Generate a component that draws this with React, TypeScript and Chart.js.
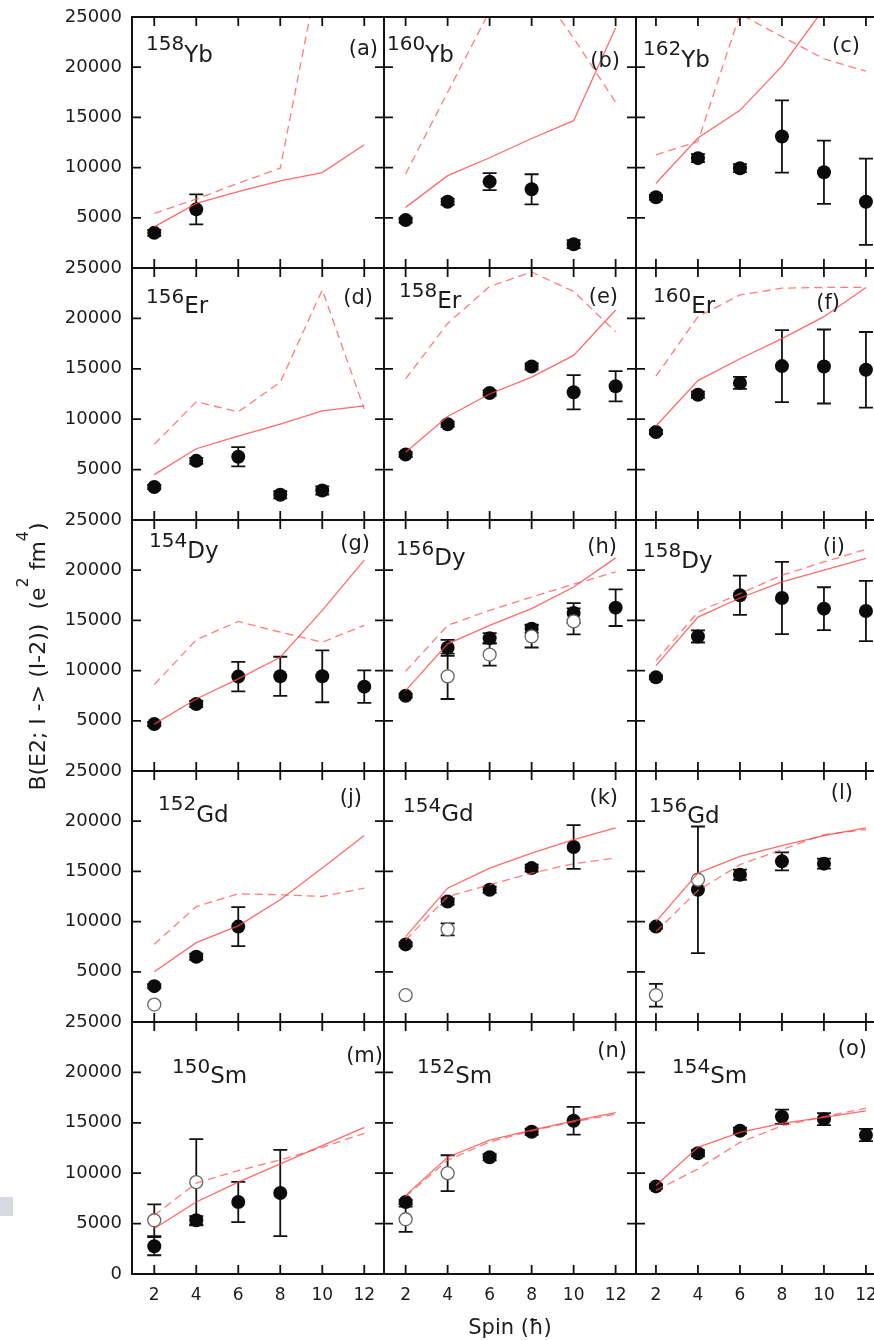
import React, { useEffect, useRef } from "react";
import { Chart, registerables } from "chart.js";

Chart.register(...registerables);
Chart.defaults.font.family = "'DejaVu Sans', sans-serif";

// ---------- data ----------
const SPINS = [2, 4, 6, 8, 10, 12];
const X_TICKS = [2, 4, 6, 8, 10, 12];
const Y_TICKS = [0, 5000, 10000, 15000, 20000, 25000];
const Y_INNER_TICKS = [5000, 10000, 15000, 20000];

// (a) 158Yb
const yb158Solid = [4100, 6440, 7600, 8670, 9500, 12270];
const yb158Dashed = [5440, 6870, 8440, 9940, 31300, 34000];
const yb158Exp = [3500, 5840, null, null, null, null];
const yb158Err = [300, 1500, 0, 0, 0, 0];

// (b) 160Yb
const yb160Solid = [6040, 9200, 10980, 12900, 14670, 23940];
const yb160Dashed = [9370, 17500, 25600, 28800, 22900, 16500];
const yb160Exp = [4770, 6600, 8600, 7840, 2370, null];
const yb160Err = [250, 300, 850, 1500, 400, 0];

// (c) 162Yb
const yb162Solid = [8440, 12940, 15700, 20100, 25830, 31000];
const yb162Dashed = [11270, 12600, 25300, 23040, 20840, 19600];
const yb162Exp = [7040, 10940, 9940, 13100, 9540, 6600];
const yb162Err = [250, 400, 400, 3600, 3150, 4300];

// (d) 156Er
const er156Solid = [4500, 7070, 8330, 9500, 10830, 11330];
const er156Dashed = [7500, 11730, 10730, 13670, 22830, 11000];
const er156Exp = [3270, 5870, 6270, 2500, 2930, null];
const er156Err = [200, 300, 950, 350, 400, 0];

// (e) 158Er
const er158Solid = [6730, 10270, 12500, 14170, 16330, 20830];
const er158Dashed = [14000, 19500, 23170, 24600, 22670, 18670];
const er158Exp = [6500, 9500, 12600, 15230, 12670, 13270];
const er158Err = [250, 250, 250, 300, 1700, 1500];

// (f) 160Er
const er160Solid = [9330, 13830, 16000, 18000, 20170, 23070];
const er160Dashed = [14270, 20170, 22330, 23000, 23070, 23070];
const er160Exp = [8730, 12430, 13600, 15270, 15230, 14900];
const er160Err = [200, 300, 600, 3570, 3670, 3750];

// (g) 154Dy
const dy154Solid = [4670, 7170, 9170, 11330, 16000, 21000];
const dy154Dashed = [8600, 13070, 14900, 13830, 12830, 14500];
const dy154Exp = [4670, 6670, 9400, 9430, 9430, 8400];
const dy154Err = [200, 300, 1470, 1950, 2580, 1620];

// (h) 156Dy
const dy156Solid = [8000, 12670, 14500, 16170, 18330, 21230];
const dy156Dashed = [9930, 14500, 16000, 17330, 18600, 19830];
const dy156Exp = [7500, 12270, 13230, 14170, 15730, 16270];
const dy156Err = [200, 800, 500, 400, 1000, 1830];
const dy156Open = [null, 9430, 11600, 13400, 14900, null];
const dy156OpenErr = [0, 2260, 1100, 1100, 1300, 0];

// (i) 158Dy
const dy158Solid = [10500, 15330, 17230, 18830, 20000, 21170];
const dy158Dashed = [11000, 15830, 17670, 19500, 20830, 22070];
const dy158Exp = [9330, 13400, 17500, 17230, 16170, 15930];
const dy158Err = [200, 600, 1950, 3600, 2130, 3000];

// (j) 152Gd
const gd152Solid = [5000, 7900, 9570, 12170, 15330, 18570];
const gd152Dashed = [7740, 11500, 12770, 12670, 12500, 13330];
const gd152Exp = [3570, 6500, 9500, null, null, null];
const gd152Err = [200, 300, 1950, 0, 0, 0];
const gd152Open = [1740, null, null, null, null, null];
const gd152OpenErr = [0, 0, 0, 0, 0, 0];

// (k) 154Gd
const gd154Solid = [8500, 13330, 15330, 16830, 18170, 19330];
const gd154Dashed = [8170, 12500, 13670, 14830, 15770, 16330];
const gd154Exp = [7730, 12000, 13170, 15330, 17430, null];
const gd154Err = [200, 300, 300, 350, 2170, 0];
const gd154Open = [2670, 9230, null, null, null, null];
const gd154OpenErr = [0, 600, 0, 0, 0, 0];

// (l) 156Gd
const gd156Solid = [10000, 14830, 16500, 17570, 18570, 19330];
const gd156Dashed = [9000, 13100, 15670, 17170, 18670, 19170];
const gd156Exp = [9500, 13170, 14670, 16000, 15770, null];
const gd156Err = [200, 6300, 500, 900, 500, 0];
const gd156Open = [2670, 14170, null, null, null, null];
const gd156OpenErr = [1130, 0, 0, 0, 0, 0];

// (m) 150Sm
const sm150Solid = [4510, 7140, 9110, 10920, 12730, 14540];
const sm150Dashed = [5820, 9010, 10260, 11320, 12570, 13950];
const sm150Exp = [2760, 5330, 7140, 8030, null, null];
const sm150Err = [900, 400, 2000, 4280, 0, 0];
const sm150Open = [5330, 9110, null, null, null, null];
const sm150OpenErr = [1580, 4280, 0, 0, 0, 0];

// (n) 152Sm
const sm152Solid = [7800, 11580, 13290, 14280, 15200, 16020];
const sm152Dashed = [7700, 11300, 13100, 14200, 15100, 15850];
const sm152Exp = [7140, null, 11580, 14110, 15200, null];
const sm152Err = [200, 0, 300, 300, 1370, 0];
const sm152Open = [5430, 10000, null, null, null, null];
const sm152OpenErr = [1250, 1780, 0, 0, 0, 0];

// (o) 154Sm
const sm154Solid = [8780, 12570, 14050, 14940, 15530, 16190];
const sm154Dashed = [8290, 10430, 13060, 14700, 15600, 16450];
const sm154Exp = [8690, 11980, 14210, 15600, 15360, 13790];
const sm154Err = [200, 300, 300, 700, 600, 600];

type Vals = (number | null)[];
interface PanelDef {
  mass: string; el: string; tag: string;
  solid: Vals; dashed: Vals; exp: Vals; err: number[];
  open: Vals | null; openErr: number[] | null;
}

const PANELS: PanelDef[] = [
  { mass: "158", el: "Yb", tag: "(a)", solid: yb158Solid, dashed: yb158Dashed, exp: yb158Exp, err: yb158Err, open: null, openErr: null },
  { mass: "160", el: "Yb", tag: "(b)", solid: yb160Solid, dashed: yb160Dashed, exp: yb160Exp, err: yb160Err, open: null, openErr: null },
  { mass: "162", el: "Yb", tag: "(c)", solid: yb162Solid, dashed: yb162Dashed, exp: yb162Exp, err: yb162Err, open: null, openErr: null },
  { mass: "156", el: "Er", tag: "(d)", solid: er156Solid, dashed: er156Dashed, exp: er156Exp, err: er156Err, open: null, openErr: null },
  { mass: "158", el: "Er", tag: "(e)", solid: er158Solid, dashed: er158Dashed, exp: er158Exp, err: er158Err, open: null, openErr: null },
  { mass: "160", el: "Er", tag: "(f)", solid: er160Solid, dashed: er160Dashed, exp: er160Exp, err: er160Err, open: null, openErr: null },
  { mass: "154", el: "Dy", tag: "(g)", solid: dy154Solid, dashed: dy154Dashed, exp: dy154Exp, err: dy154Err, open: null, openErr: null },
  { mass: "156", el: "Dy", tag: "(h)", solid: dy156Solid, dashed: dy156Dashed, exp: dy156Exp, err: dy156Err, open: dy156Open, openErr: dy156OpenErr },
  { mass: "158", el: "Dy", tag: "(i)", solid: dy158Solid, dashed: dy158Dashed, exp: dy158Exp, err: dy158Err, open: null, openErr: null },
  { mass: "152", el: "Gd", tag: "(j)", solid: gd152Solid, dashed: gd152Dashed, exp: gd152Exp, err: gd152Err, open: gd152Open, openErr: gd152OpenErr },
  { mass: "154", el: "Gd", tag: "(k)", solid: gd154Solid, dashed: gd154Dashed, exp: gd154Exp, err: gd154Err, open: gd154Open, openErr: gd154OpenErr },
  { mass: "156", el: "Gd", tag: "(l)", solid: gd156Solid, dashed: gd156Dashed, exp: gd156Exp, err: gd156Err, open: gd156Open, openErr: gd156OpenErr },
  { mass: "150", el: "Sm", tag: "(m)", solid: sm150Solid, dashed: sm150Dashed, exp: sm150Exp, err: sm150Err, open: sm150Open, openErr: sm150OpenErr },
  { mass: "152", el: "Sm", tag: "(n)", solid: sm152Solid, dashed: sm152Dashed, exp: sm152Exp, err: sm152Err, open: sm152Open, openErr: sm152OpenErr },
  { mass: "154", el: "Sm", tag: "(o)", solid: sm154Solid, dashed: sm154Dashed, exp: sm154Exp, err: sm154Err, open: null, openErr: null },
];

// ---------- layout / style ----------
// [mass dx, mass baseline dy, element drop, tag right offset, tag baseline dy]
const LABEL_POS = [
  [14, 33, 12, 6, 38], [3, 33, 12, 16, 50], [7, 38, 12, 28, 35],
  [14, 35, 10, 11, 36], [15, 29, 11, 18, 35], [17, 34, 11, 48, 41],
  [17, 27, 11, 14, 30], [12, 35, 10, 19, 33], [7, 37, 11, 43, 33],
  [26, 39, 12, 22, 33], [19, 41, 9, 18, 33], [13, 41, 11, 35, 28],
  [40, 51, 10, 1, 40], [33, 51, 10, 9, 35], [36, 51, 10, 21, 33],
];
const COL_LEFT = [132, 384, 636];
const COL_XMIN = [0.94, 0.97, 1.05];
const PANEL_W = 252;
const ROW_TOP = [17, 268, 520, 771, 1022];
const ROW_BOTTOM = [268, 520, 771, 1022, 1274];
const TEXT = "#1c1c1c";
const RED = "rgba(255, 70, 70, 0.8)";
const RED_DASH = "rgba(255, 80, 80, 0.75)";
const FONT = "'DejaVu Sans', sans-serif";

function pts(vals: Vals) {
  return SPINS.map((x, i) => ({ x, y: vals[i] })).filter((p) => p.y !== null) as { x: number; y: number }[];
}

function Panel({ idx }: { idx: number }) {
  const ref = useRef<HTMLCanvasElement>(null);
  const r = Math.floor(idx / 3);
  const c = idx % 3;
  const p = PANELS[idx];
  const lp = LABEL_POS[idx];
  const padL = c === 0 ? COL_LEFT[0] : 6;
  const padR = 6;
  const padT = 14;
  const padB = r === 4 ? 70 : r === 2 && c === 0 ? 30 : 6;
  const areaH = ROW_BOTTOM[r] - ROW_TOP[r];
  const left = COL_LEFT[c] - padL;
  const top = ROW_TOP[r] - padT;
  const width = PANEL_W + padL + padR;
  const height = areaH + padT + padB;

  useEffect(() => {
    const canvas = ref.current;
    if (!canvas) return;

    const errorBars = {
      id: "errorBars",
      beforeDatasetsDraw(chart: any) {
        const { ctx, scales } = chart;
        const xs = scales.x, ys = scales.y;
        ctx.save();
        ctx.strokeStyle = "#111";
        ctx.lineWidth = 1.8;
        const draw = (vals: Vals, errs: number[] | null) => {
          if (!errs) return;
          SPINS.forEach((s, i) => {
            const v = vals[i];
            const e = errs[i];
            if (v === null || !e) return;
            const px = xs.getPixelForValue(s);
            const y1 = ys.getPixelForValue(v + e);
            const y2 = ys.getPixelForValue(v - e);
            ctx.beginPath();
            ctx.moveTo(px, y1); ctx.lineTo(px, y2);
            ctx.moveTo(px - 7, y1); ctx.lineTo(px + 7, y1);
            ctx.moveTo(px - 7, y2); ctx.lineTo(px + 7, y2);
            ctx.stroke();
          });
        };
        draw(p.exp, p.err);
        if (p.open) draw(p.open, p.openErr);
        ctx.restore();
      },
    };

    const frame = {
      id: "frame",
      afterDraw(chart: any) {
        const { ctx, chartArea: a, scales } = chart;
        ctx.save();
        ctx.strokeStyle = "#111";
        ctx.lineWidth = 2;
        ctx.strokeRect(a.left, a.top, a.right - a.left, a.bottom - a.top);
        ctx.lineWidth = 1.8;
        ctx.beginPath();
        X_TICKS.forEach((v) => {
          const px = scales.x.getPixelForValue(v);
          ctx.moveTo(px, a.top); ctx.lineTo(px, a.top + 9);
          ctx.moveTo(px, a.bottom); ctx.lineTo(px, a.bottom - 9);
        });
        Y_INNER_TICKS.forEach((v) => {
          const py = scales.y.getPixelForValue(v);
          ctx.moveTo(a.left, py); ctx.lineTo(a.left + 9, py);
          ctx.moveTo(a.right, py); ctx.lineTo(a.right - 9, py);
        });
        ctx.stroke();

        // nuclide label and panel tag
        ctx.fillStyle = TEXT;
        ctx.textBaseline = "alphabetic";
        ctx.textAlign = "left";
        ctx.font = `20px ${FONT}`;
        const x0 = a.left + lp[0];
        const y0 = a.top + lp[1];
        ctx.fillText(p.mass, x0, y0);
        const w = ctx.measureText(p.mass).width;
        ctx.font = `23px ${FONT}`;
        ctx.fillText(p.el, x0 + w, y0 + lp[2]);
        ctx.font = `21px ${FONT}`;
        ctx.textAlign = "right";
        ctx.fillText(p.tag, a.right - lp[3], a.top + lp[4]);

        // y axis title (middle-left panel)
        if (r === 2 && c === 0) {
          ctx.translate(45, 656.5 - top);
          ctx.rotate(-Math.PI / 2);
          ctx.textAlign = "left";
          const parts = [
            { t: "B(E2; I -> (I-2))  (e", sup: false },
            { t: "2", sup: true },
            { t: " fm", sup: false },
            { t: "4", sup: true },
            { t: ")", sup: false },
          ];
          let total = 0;
          const widths = parts.map((q) => {
            ctx.font = q.sup ? `16px ${FONT}` : `22px ${FONT}`;
            const ww = ctx.measureText(q.t).width;
            total += ww;
            return ww;
          });
          let x = -total / 2;
          parts.forEach((q, i) => {
            ctx.font = q.sup ? `16px ${FONT}` : `22px ${FONT}`;
            ctx.fillText(q.t, x, q.sup ? -17 : 0);
            x += widths[i];
          });
        }
        ctx.restore();
      },
    };

    const datasets: any[] = [
      { data: pts(p.solid), showLine: true, borderColor: RED, borderWidth: 1.3, pointRadius: 0, fill: false },
      { data: pts(p.dashed), showLine: true, borderColor: RED_DASH, borderWidth: 1.3, borderDash: [8, 5], pointRadius: 0, fill: false },
    ];
    if (p.open) {
      datasets.push({ data: pts(p.open), pointRadius: 6.5, backgroundColor: "#ffffff", borderColor: "#666", borderWidth: 1.3 });
    }
    datasets.push({ data: pts(p.exp), pointRadius: 7, backgroundColor: "#0b0b0b", borderColor: "#0b0b0b", borderWidth: 0 });

    const zeroPad = (s: any) => {
      s.paddingTop = 0; s.paddingBottom = 0; s.paddingLeft = 0; s.paddingRight = 0;
    };

    const chart = new Chart(canvas, {
      type: "scatter",
      data: { datasets },
      options: {
        responsive: false,
        animation: false,
        events: [],
        layout: {
          autoPadding: false,
          padding: { left: c === 0 ? 0 : padL, right: padR, top: padT, bottom: r === 4 ? 0 : padB },
        },
        plugins: { legend: { display: false }, tooltip: { enabled: false } },
        scales: {
          x: {
            type: "linear",
            min: COL_XMIN[c],
            max: COL_XMIN[c] + 12,
            display: r === 4,
            afterBuildTicks: (s: any) => { s.ticks = X_TICKS.map((v) => ({ value: v })); },
            afterFit: (s: any) => { if (r === 4) { s.height = padB; zeroPad(s); } },
            grid: { display: false, drawTicks: false },
            border: { display: false },
            ticks: { color: TEXT, font: { size: 17 }, padding: 11, maxRotation: 0, autoSkip: false, callback: (v: any) => String(v) },
            title: { display: r === 4 && c === 1, text: "Spin (ħ)", color: TEXT, font: { size: 21 }, padding: { top: 0, bottom: 3 } },
          },
          y: {
            type: "linear",
            min: 0,
            max: 25000,
            display: c === 0,
            afterBuildTicks: (s: any) => { s.ticks = Y_TICKS.map((v) => ({ value: v })); },
            afterFit: (s: any) => { if (c === 0) { s.width = padL; zeroPad(s); } },
            grid: { display: false, drawTicks: false },
            border: { display: false },
            ticks: { color: TEXT, font: { size: 18 }, padding: 10, callback: (v: any) => (v === 0 && r < 4 ? "" : String(v)) },
          },
        },
      } as any,
      plugins: [errorBars, frame],
    });
    return () => chart.destroy();
  }, []);

  return (
    <canvas
      ref={ref}
      width={width}
      height={height}
      style={{ position: "absolute", left, top, width, height }}
    />
  );
}

export default function App() {
  return (
    <div style={{ position: "absolute", left: 0, top: 0, width: 874, height: 1340, overflow: "hidden", background: "#fff" }}>
      {PANELS.map((_, i) => (
        <Panel key={i} idx={i} />
      ))}
      <div style={{ position: "absolute", left: 0, top: 1197, width: 13, height: 19, background: "#d9dae1" }} />
    </div>
  );
}
